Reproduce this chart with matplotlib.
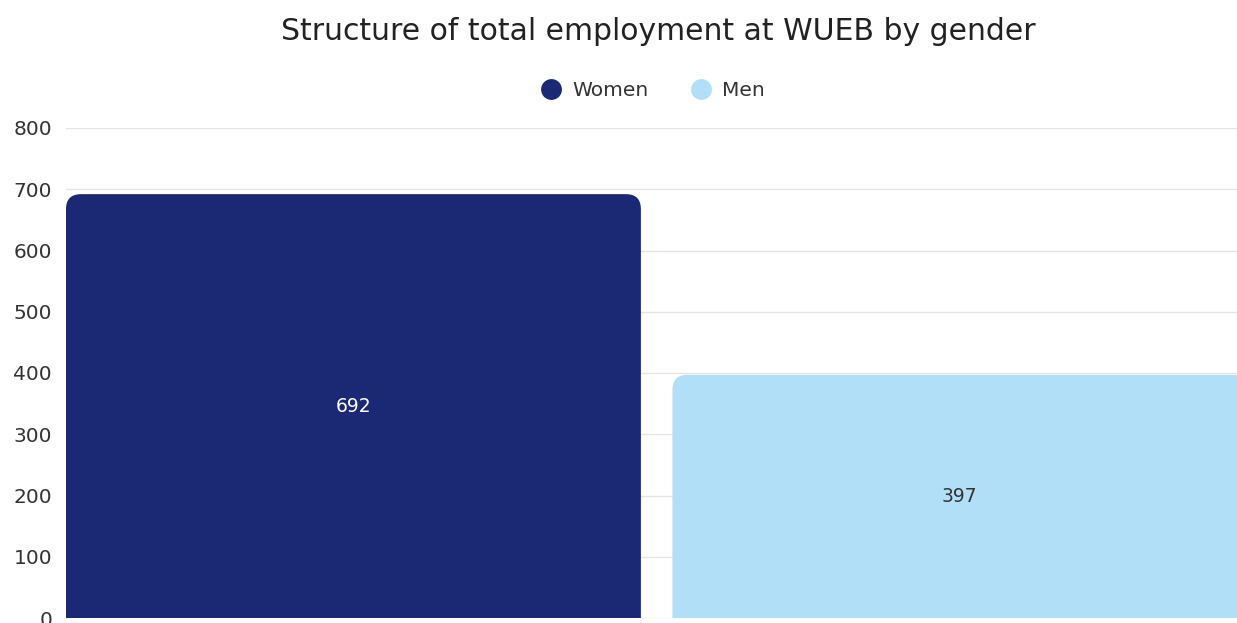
import matplotlib
matplotlib.use("Agg")
import matplotlib.pyplot as plt
from matplotlib.patches import FancyBboxPatch
from matplotlib.lines import Line2D

categories = ["Women", "Men"]
values = [692, 397]
colors = ["#1b2873", "#b1dff7"]
label_colors = ["#ffffff", "#333333"]
yticks = [0, 100, 200, 300, 400, 500, 600, 700, 800]

plt.rcParams['font.family'] = ['DejaVu Sans']

W, H = 1237, 623
fig = plt.figure(figsize=(W / 100, H / 100), dpi=100)
ax = fig.add_axes([66 / W, 5 / H, 1 - 66 / W, (618 - 128) / H])

xs = list(range(len(categories)))
bw = 0.948
bars = ax.bar(xs, values, width=bw, color=colors, zorder=2)
ax.set_xlim(-bw / 2, 1.457)
ax.set_ylim(0, 800)
ax.set_yticks(yticks)
ax.set_xticks([])

# rounded top corners (bottom extended below the axis so it stays square)
fig.canvas.draw()
px_x = ax.transData.transform((1, 0))[0] - ax.transData.transform((0, 0))[0]
px_y = ax.transData.transform((0, 1))[1] - ax.transData.transform((0, 0))[1]
r_px = 15
rx = r_px / px_x
aspect = px_x / px_y
ext = 60
for b, c in zip(bars, colors):
    x, y, w, h = b.get_x(), b.get_y(), b.get_width(), b.get_height()
    b.set_visible(False)
    p = FancyBboxPatch((x, y - ext), w, h + ext, boxstyle=f"round,pad=0,rounding_size={rx}",
                       mutation_aspect=aspect, facecolor=c, edgecolor="none", zorder=2)
    ax.add_patch(p)

for i, (v, lc) in enumerate(zip(values, label_colors)):
    ax.text(i, v / 2, str(v), ha="center", va="center", color=lc, fontsize=13.5, zorder=3)

ax.grid(axis="y", color="#e5e5e5", linewidth=1, zorder=0)
for s in ax.spines.values():
    s.set_visible(False)
ax.tick_params(axis="y", length=0, pad=10, labelsize=14.5, labelcolor="#333333")
ax.tick_params(axis="x", length=0)

fig.text(658 / W, 1 - 31 / H, "Structure of total employment at WUEB by gender",
         ha="center", va="center", fontsize=21.5, color="#222222")

handles = [Line2D([], [], marker="o", linestyle="none", markersize=15,
                  markerfacecolor=c, markeredgecolor="none") for c in colors]
fig.legend(handles, categories, loc="center", bbox_to_anchor=(652 / W, 1 - 91 / H),
           ncol=2, frameon=False, fontsize=14.5, handletextpad=0.45, columnspacing=2.0,
           handlelength=1.2, labelcolor="#333333")

fig.savefig("out.png", dpi=100)
